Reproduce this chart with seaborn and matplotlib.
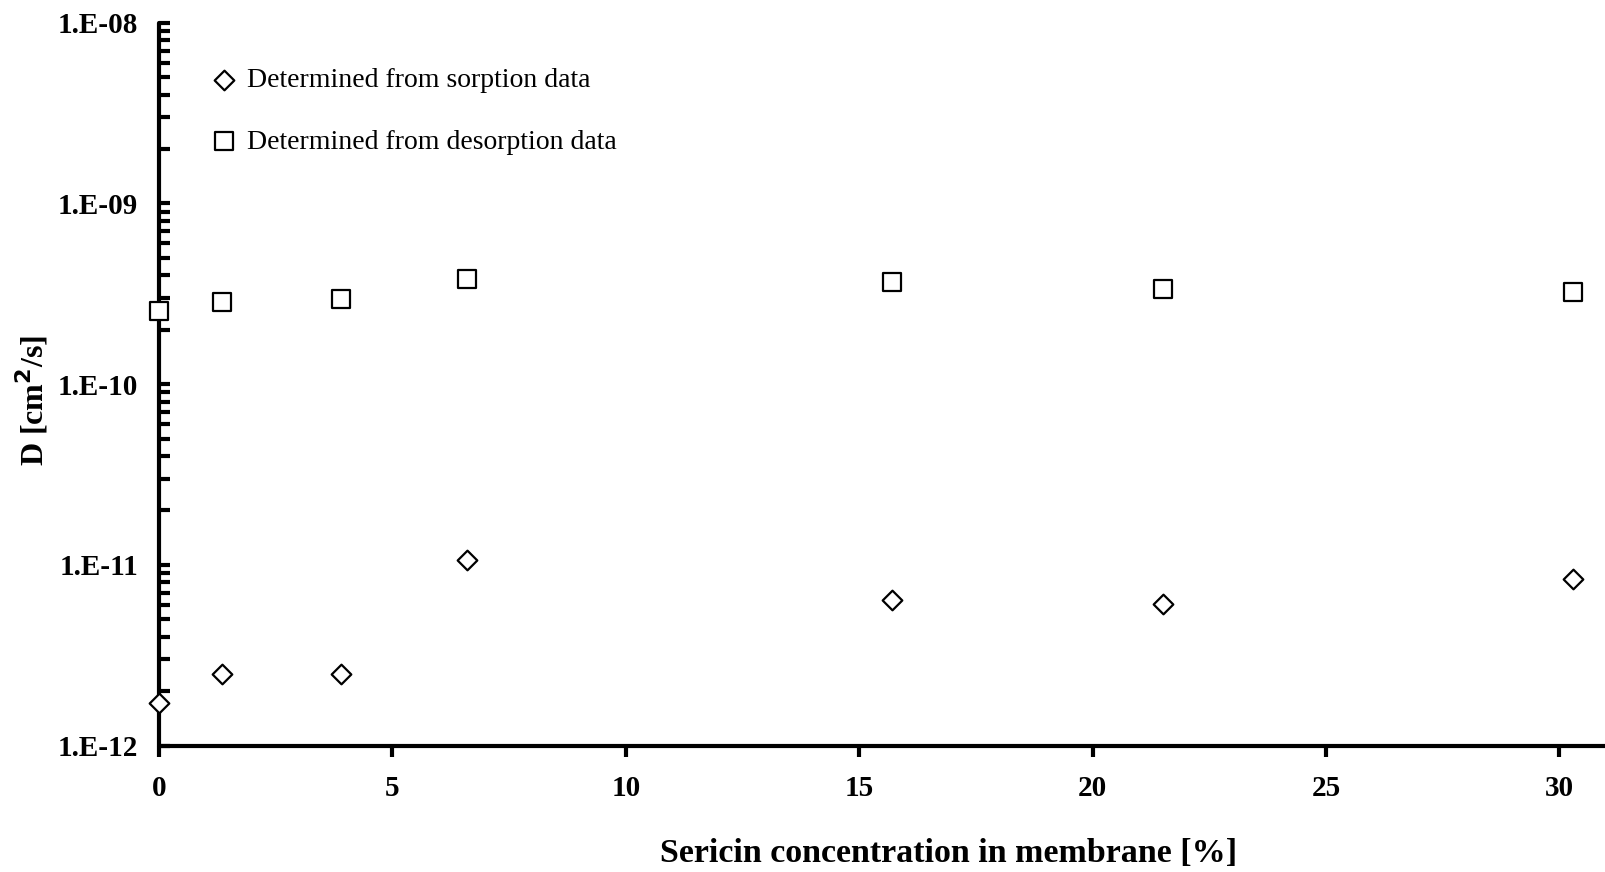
import seaborn as sns
import matplotlib.pyplot as plt
import matplotlib.ticker as mticker
import numpy as np
import pandas as pd

# sericin content [%] and diffusion coefficients
sericin = [0.0, 1.35, 3.9, 6.6, 15.7, 21.5, 30.3]
d_sorption = [1.71e-12, 2.5e-12, 2.5e-12, 1.07e-11, 6.35e-12, 6.1e-12, 8.35e-12]
d_desorption = [2.55e-10, 2.85e-10, 2.97e-10, 3.8e-10, 3.66e-10, 3.38e-10, 3.25e-10]

x_ticks = [0, 5, 10, 15, 20, 25, 30]
y_ticks = [1e-12, 1e-11, 1e-10, 1e-9, 1e-8]

sns.set_style('ticks')
plt.rcParams['font.family'] = ['Liberation Serif', 'DejaVu Serif']
plt.rcParams['text.color'] = 'black'
plt.rcParams['axes.labelcolor'] = 'black'
plt.rcParams['axes.edgecolor'] = 'black'
plt.rcParams['xtick.color'] = 'black'
plt.rcParams['ytick.color'] = 'black'

fig = plt.figure(figsize=(16.06, 8.72), dpi=100)
ax = fig.add_axes([0.099, 0.145, 0.901, 0.829])

sns.scatterplot(x=sericin, y=d_sorption, marker='D', s=100, facecolor='white',
                edgecolor='black', linewidth=1.6, clip_on=False, zorder=5,
                label='Determined from sorption data', ax=ax)
sns.scatterplot(x=sericin, y=d_desorption, marker='s', s=150, facecolor='white',
                edgecolor='black', linewidth=1.6, clip_on=False, zorder=5,
                label='Determined from desorption data', ax=ax)

ax.set_yscale('log')
ax.set_ylim(1e-12, 1e-8)
ax.set_xlim(0, 31.0)
ax.set_xticks(x_ticks)
ax.set_yticks(y_ticks)
ax.yaxis.set_minor_locator(mticker.LogLocator(base=10, subs=np.arange(2, 10)))
ax.yaxis.set_minor_formatter(mticker.NullFormatter())
ax.yaxis.set_major_formatter(
    mticker.FuncFormatter(lambda v, p: '1.E{:03d}'.format(int(round(np.log10(v))))))

for side in ['top', 'right']:
    ax.spines[side].set_visible(False)
for side in ['left', 'bottom']:
    ax.spines[side].set_linewidth(3)
    ax.spines[side].set_capstyle('round')

ax.tick_params(axis='y', which='both', direction='in', length=8, width=3,
               labelsize=21, pad=15)
ax.tick_params(axis='x', which='major', direction='out', length=8, width=3,
               labelsize=21, pad=13)
for lab in ax.get_xticklabels() + ax.get_yticklabels():
    lab.set_fontweight('bold')

ax.set_xlabel('Sericin concentration in membrane [%]', fontsize=24.5,
              fontweight='bold')
ax.set_ylabel('D [cm$^\\mathbf{2}$/s]', fontsize=23, fontweight='bold')
ax.xaxis.set_label_coords(0.546, -0.128)
ax.yaxis.set_label_coords(-0.075, 0.478)

leg = ax.legend(loc='upper left', bbox_to_anchor=(0.026, 0.953), frameon=False,
                fontsize=20, handletextpad=0.2, labelspacing=1.3,
                borderaxespad=0, handlelength=1.2)

plt.savefig('out.png', dpi=100)
